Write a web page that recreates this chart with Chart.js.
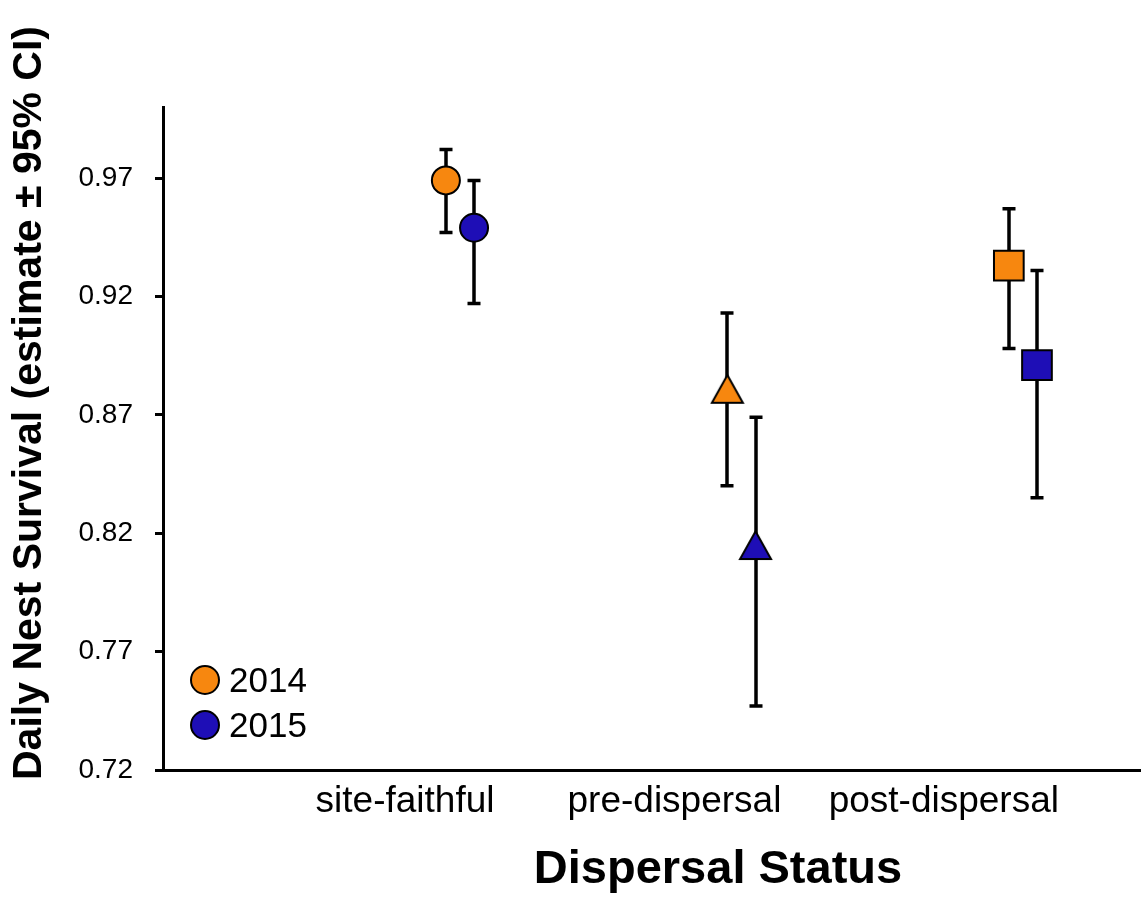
<!DOCTYPE html>
<html>
<head>
<meta charset="utf-8">
<script src="https://cdn.jsdelivr.net/npm/chart.js@4.4.1/dist/chart.umd.min.js"></script>
<style>
  html, body { margin: 0; padding: 0; background: #ffffff; }
  #wrap { width: 1142px; height: 900px; position: relative; }
</style>
</head>
<body>
<div id="wrap"><canvas id="c" width="1142" height="900"></canvas></div>
<script>
// Daily nest survival by dispersal status, 2014 vs 2015 (estimate with 95% CI)
const categories = ['site-faithful', 'pre-dispersal', 'post-dispersal'];
const years = ['2014', '2015'];
const est2014 = [0.969, 0.881, 0.933];
const low2014 = [0.947, 0.840, 0.898];
const high2014 = [0.982, 0.913, 0.957];
const est2015 = [0.949, 0.815, 0.891];
const low2015 = [0.917, 0.747, 0.835];
const high2015 = [0.969, 0.869, 0.931];
const yTicks = [0.72, 0.77, 0.82, 0.87, 0.92, 0.97];

const ORANGE = '#F7870F';
const BLUE = '#1E0EB6';
const FONT = "'Liberation Sans', Arial, Helvetica, sans-serif";

// Triangle marker centred on its bounding box
function triangleMarker(fill) {
  const c = document.createElement('canvas');
  c.width = 35; c.height = 32;
  const g = c.getContext('2d');
  g.beginPath();
  g.moveTo(17.5, 2.2);
  g.lineTo(33, 30);
  g.lineTo(2, 30);
  g.closePath();
  g.fillStyle = fill;
  g.fill();
  g.lineWidth = 2;
  g.strokeStyle = '#000';
  g.lineJoin = 'miter';
  g.stroke();
  return c;
}

const styleFor = (fill) => ['circle', triangleMarker(fill), 'rect'];
const radiusFor = [14, 16, 21];

// Horizontal dodge between the two years within a category
const DODGE = 0.05;

function seriesPoints(est, low, high, shift) {
  return categories.map((c, i) => ({ x: i + 1 + shift, y: est[i], low: low[i], high: high[i] }));
}

// Vertical CI whiskers, painted under the markers
const errorBars = {
  id: 'errorBars',
  beforeDatasetsDraw(chart) {
    const { ctx, scales: { x, y } } = chart;
    ctx.save();
    ctx.strokeStyle = '#000';
    ctx.lineWidth = 3.5;
    ctx.lineCap = 'butt';
    chart.data.datasets.forEach(ds => {
      ds.data.forEach(p => {
        const px = Math.round(x.getPixelForValue(p.x));
        const yl = y.getPixelForValue(p.low);
        const yh = y.getPixelForValue(p.high);
        ctx.beginPath();
        ctx.moveTo(px, yl); ctx.lineTo(px, yh);
        ctx.moveTo(px - 6.5, yl); ctx.lineTo(px + 6.5, yl);
        ctx.moveTo(px - 6.5, yh); ctx.lineTo(px + 6.5, yh);
        ctx.stroke();
      });
    });
    ctx.restore();
  }
};

// Axis titles and the in-plot year key
const annotations = {
  id: 'annotations',
  afterDraw(chart) {
    const { ctx } = chart;
    ctx.save();
    ctx.fillStyle = '#000';
    // y title
    ctx.save();
    ctx.translate(30, 403);
    ctx.rotate(-Math.PI / 2);
    ctx.font = 'bold 41px ' + FONT;
    ctx.textAlign = 'center';
    ctx.textBaseline = 'middle';
    ctx.fillText('Daily Nest Survival (estimate \u00B1 95% CI)', 0, 0);
    ctx.restore();
    // x title
    ctx.font = 'bold 47px ' + FONT;
    ctx.textAlign = 'center';
    ctx.textBaseline = 'middle';
    ctx.fillText('Dispersal Status', 718, 870);
    // key
    const fills = [ORANGE, BLUE];
    years.forEach((yr, i) => {
      const cy = 680 + i * 45;
      ctx.beginPath();
      ctx.arc(205, cy, 14, 0, Math.PI * 2);
      ctx.fillStyle = fills[i];
      ctx.fill();
      ctx.lineWidth = 2;
      ctx.strokeStyle = '#000';
      ctx.stroke();
      ctx.fillStyle = '#000';
      ctx.font = '35px ' + FONT;
      ctx.textAlign = 'left';
      ctx.textBaseline = 'middle';
      ctx.fillText(yr, 229, cy + 2);
    });
    ctx.restore();
  }
};

new Chart(document.getElementById('c'), {
  type: 'scatter',
  data: {
    datasets: [
      {
        label: years[0],
        data: seriesPoints(est2014, low2014, high2014, -DODGE),
        backgroundColor: ORANGE,
        borderColor: '#000',
        borderWidth: 2,
        pointStyle: styleFor(ORANGE),
        pointRadius: radiusFor,
        pointHoverRadius: radiusFor
      },
      {
        label: years[1],
        data: seriesPoints(est2015, low2015, high2015, DODGE),
        backgroundColor: BLUE,
        borderColor: '#000',
        borderWidth: 2,
        pointStyle: styleFor(BLUE),
        pointRadius: radiusFor,
        pointHoverRadius: radiusFor
      }
    ]
  },
  options: {
    responsive: false,
    animation: false,
    events: [],
    layout: { autoPadding: false, padding: { top: 107, right: 2, left: 0, bottom: 0 } },
    plugins: { legend: { display: false }, tooltip: { enabled: false } },
    scales: {
      x: {
        type: 'linear',
        min: -0.055,
        max: 3.416,
        afterFit: (s) => { s.height = 130; s.paddingLeft = 0; s.paddingRight = 0; },
        afterBuildTicks: (s) => {
          s.ticks = categories.map((c, i) => ({ value: 0.805 + i * 0.957 }));
        },
        grid: { display: false, drawTicks: false },
        border: { display: true, color: '#000', width: 3 },
        ticks: {
          padding: 10,
          color: '#000',
          font: { family: FONT, size: 37 },
          maxRotation: 0,
          autoSkip: false,
          callback: (v, i) => categories[i]
        }
      },
      y: {
        type: 'linear',
        min: 0.72,
        max: 1.0,
        afterFit: (s) => { s.width = 163; s.paddingTop = 0; s.paddingBottom = 0; },
        afterBuildTicks: (s) => { s.ticks = yTicks.map(v => ({ value: v })); },
        grid: { drawOnChartArea: false, drawTicks: true, tickLength: 8, color: '#000', lineWidth: 3 },
        border: { display: true, color: '#000', width: 3 },
        ticks: {
          padding: 22,
          color: '#000',
          font: { family: FONT, size: 28 },
          callback: (v) => Number(v).toFixed(2)
        }
      }
    }
  },
  plugins: [errorBars, annotations]
});
</script>
</body>
</html>
